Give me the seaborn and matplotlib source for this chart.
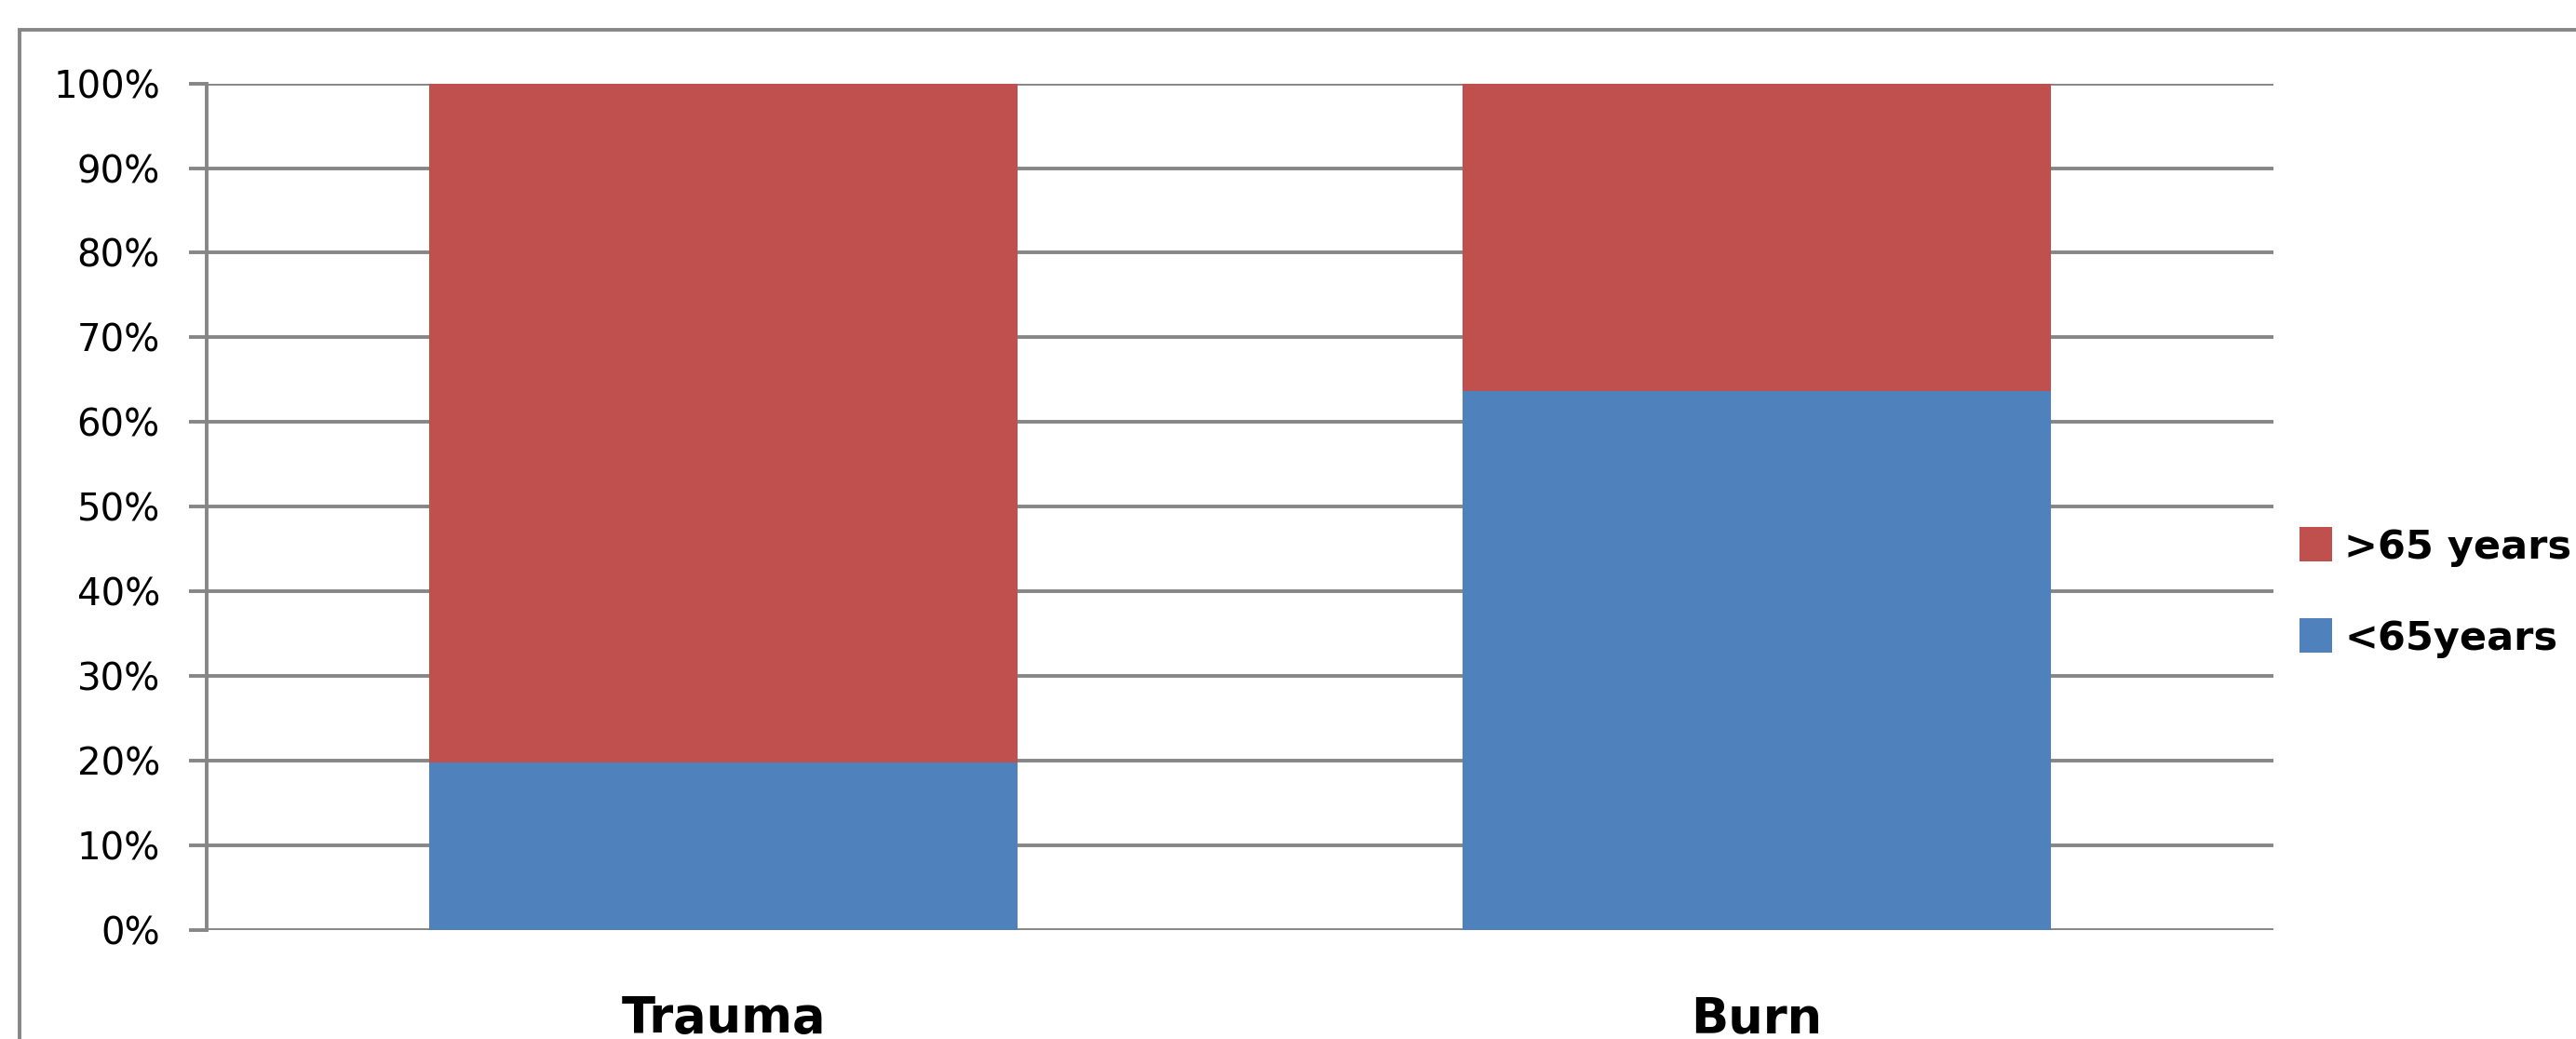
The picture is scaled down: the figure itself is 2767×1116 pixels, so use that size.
import matplotlib
matplotlib.use("Agg")
import matplotlib.pyplot as plt
import seaborn as sns
import pandas as pd
from matplotlib.patches import Patch, Rectangle
from matplotlib.ticker import PercentFormatter

categories = ["Trauma", "Burn"]
under_65 = [19.8, 63.7]
over_65 = [80.2, 36.3]
series_labels = [">65 years", "<65years"]
yticks = [0, 10, 20, 30, 40, 50, 60, 70, 80, 90, 100]

RED = "#C0504D"
BLUE = "#4F81BD"
GRID = "#868686"

df = pd.DataFrame({"category": categories,
                   "under": under_65,
                   "total": [u + o for u, o in zip(under_65, over_65)]})

sns.set_theme(style="white")
plt.rcParams["font.family"] = ["DejaVu Sans"]
plt.rcParams["text.color"] = "black"

W, H = 2767, 1116
fig = plt.figure(figsize=(W / 100, H / 100), dpi=100)
ax = fig.add_axes([222 / W, 1 - 998.6 / H, 2220 / W, (998.6 - 89.7) / H])

sns.barplot(data=df, x="category", y="total", color=RED, width=0.57,
            saturation=1, ax=ax, zorder=3)
sns.barplot(data=df, x="category", y="under", color=BLUE, width=0.57,
            saturation=1, ax=ax, zorder=4)
for p in ax.patches:
    p.set_linewidth(0)

ax.set_xlim(-0.5, 1.5)
ax.set_ylim(0, 100)
ax.set_yticks(yticks)
ax.yaxis.set_major_formatter(PercentFormatter(decimals=0))
ax.set_xlabel("")
ax.set_ylabel("")

ax.set_axisbelow(True)
ax.yaxis.grid(True, color=GRID, linewidth=2.8)
ax.xaxis.grid(False)
for s in ["top", "right", "bottom"]:
    ax.spines[s].set_visible(False)
ax.spines["left"].set_color(GRID)
ax.spines["left"].set_linewidth(2.8)

ax.tick_params(axis="y", which="major", left=True, length=14, width=2.8,
               color=GRID, pad=22, labelsize=29, labelcolor="black")
ax.tick_params(axis="x", which="major", bottom=False, length=0, pad=50,
               labelsize=38, labelcolor="black")
for lbl in ax.get_xticklabels():
    lbl.set_fontweight("bold")

handles = [Patch(facecolor=RED, edgecolor="none"),
           Patch(facecolor=BLUE, edgecolor="none")]
leg = fig.legend(handles, series_labels, loc="center left",
                 bbox_to_anchor=(2470 / W, 1 - 636.5 / H),
                 frameon=False, borderpad=0, borderaxespad=0,
                 handlelength=0.82, handleheight=0.94, handletextpad=0.3,
                 labelspacing=1.3, prop={"size": 31, "weight": "bold"})
for t in leg.get_texts():
    t.set_color("black")

fig.patches.append(Rectangle((20.7 / W, -0.2), 1.5, 1.2 - 32 / H,
                             transform=fig.transFigure, fill=False,
                             edgecolor=GRID, linewidth=2.8))

fig.savefig("out.png", dpi=100, facecolor="white")
